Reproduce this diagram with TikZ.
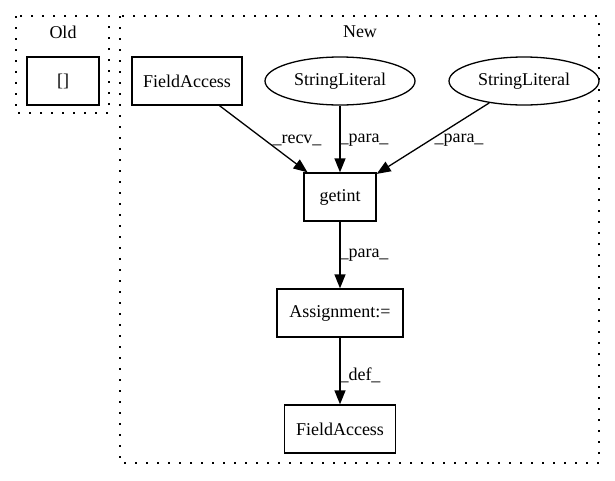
\documentclass[tikz,border=0pt]{standalone}
\usepackage{fontspec}
\setmainfont{Liberation Serif}
\usetikzlibrary{arrows.meta,shapes.geometric}

\begin{document}
\begin{tikzpicture}[x=1pt,y=-1pt,
    font=\fontsize{18}{21}\selectfont,
    box/.style={draw,line width=1.3pt,rectangle,minimum height=48pt,inner sep=0pt},
    oval/.style={draw,line width=1.3pt,ellipse,minimum width=150pt,minimum height=48pt,inner sep=0pt},
    cluster/.style={draw,line width=1.3pt,dash pattern=on 2pt off 9pt},
    edge/.style={line width=1.3pt,-{Triangle[length=14pt,width=11pt]}},
    lbl/.style={inner sep=1pt}]
  \useasboundingbox (0,0) rectangle (615,480);

  % clusters
  \draw[cluster] (16,16) rectangle (109,113);
  \draw[cluster] (120,16) rectangle (599,463);
  \node (oldlbl) at (63,32) {Old};
  \node (newlbl) at (360,32) {New};

  % nodes
  \node[box,minimum width=72pt] (idx) at (63,81) {[]};
  \node[box,minimum width=110pt] (fa1) at (187,81) {FieldAccess};
  \node[oval] (str1) at (340,81) {StringLiteral};
  \node[oval] (str2) at (524,81) {StringLiteral};
  \node[box,minimum width=72pt] (getint) at (340,197) {getint};
  \node[box,minimum width=126pt] (assign) at (340,313) {Assignment:=};
  \node[box,minimum width=111pt] (fa2) at (340,429) {FieldAccess};

  % edges
  \draw[edge] (fa1) -- (getint);
  \draw[edge] (str1) -- (getint);
  \draw[edge] (str2) -- (getint);
  \draw[edge] (getint) -- (assign);
  \draw[edge] (assign) -- (fa2);

  \node[lbl] (recv) at (297,140) {\_recv\_};
  \node[lbl] (para1) at (364,140) {\_para\_};
  \node[lbl] (para2) at (459,140) {\_para\_};
  \node[lbl] (para3) at (364,255) {\_para\_};
  \node[lbl] (def) at (360,375) {\_def\_};
\end{tikzpicture}
\end{document}
